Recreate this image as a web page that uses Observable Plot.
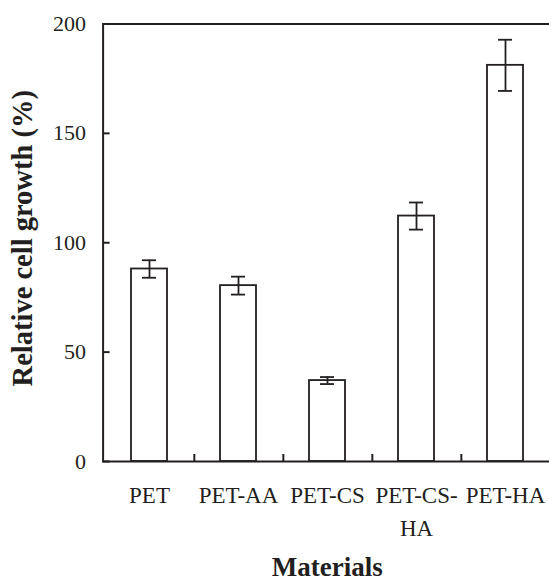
<!DOCTYPE html>
<html><head><meta charset="utf-8">
<script src="https://cdn.jsdelivr.net/npm/d3@7"></script>
<script src="https://cdn.jsdelivr.net/npm/@observablehq/plot@0.6"></script>
<style>html,body{margin:0;padding:0;background:#fff;overflow:hidden}</style>
</head><body><div id="chart"></div>
<script>
const materials = ["PET", "PET-AA", "PET-CS", "PET-CS-HA", "PET-HA"];
const tickLabels = ["PET", "PET-AA", "PET-CS", "PET-CS-\nHA", "PET-HA"];
const growth = [88.0, 80.4, 37.0, 112.2, 181.1];
const errors = [4.0, 4.1, 1.6, 6.2, 11.7];
const yTicks = [0, 50, 100, 150, 200];
const yTitle = "Relative cell growth (%)";
const xTitle = "Materials";

const data = materials.map((m, i) => ({m, v: growth[i], e: errors[i]}));
const labelMap = new Map(materials.map((m, i) => [m, tickLabels[i]]));

const W = 549, H = 582, mL = 102.6, mR = -2, mT = 23.5, mB = 121;
const step = (W - mL - mR) / materials.length;
const ink = "#231f20";
const font = "'Liberation Serif','Times New Roman',serif";

const plot = Plot.plot({
  width: W, height: H,
  marginLeft: mL, marginRight: mR, marginTop: mT, marginBottom: mB,
  style: {fontFamily: font, color: ink, background: "white", overflow: "visible"},
  x: {domain: materials, paddingInner: 0.595, paddingOuter: 0.2975},
  y: {domain: [0, 200]},
  marks: [
    Plot.barY(data, {x: "m", y: "v", fill: "white", stroke: ink, strokeWidth: 1.8}),
    Plot.ruleX(data, {x: "m", y1: d => d.v - d.e, y2: d => d.v + d.e, stroke: ink, strokeWidth: 1.8}),
    Plot.tickY(data, {x: "m", y: d => d.v - d.e, stroke: ink, strokeWidth: 1.8, insetLeft: 11, insetRight: 11}),
    Plot.tickY(data, {x: "m", y: d => d.v + d.e, stroke: ink, strokeWidth: 1.8, insetLeft: 11, insetRight: 11}),
    Plot.frame({stroke: ink, strokeWidth: 2}),
    Plot.axisY(yTicks, {tickSize: -7, tickPadding: 24, fontSize: 22, stroke: ink, strokeWidth: 2, fill: ink, label: null, tickFormat: d => String(d)}),
    Plot.axisX(materials.slice(0, 4), {tickSize: -7, dx: step / 2, fill: "none", stroke: ink, strokeWidth: 2, label: null}),
    Plot.axisX(materials, {tickSize: 0, tickPadding: 19, fontSize: 23, lineHeight: 1.4, fill: ink, label: null, tickFormat: d => labelMap.get(d)}),
    Plot.text([yTitle], {text: d => d, frameAnchor: "left", textAnchor: "middle", rotate: -90, dx: -71.6, dy: -4.5, lineAnchor: "bottom", fontSize: 28.5, fontWeight: "bold", fill: ink}),
    Plot.text([xTitle], {text: d => d, frameAnchor: "bottom", textAnchor: "middle", dy: 114, lineAnchor: "bottom", fontSize: 27, fontWeight: "bold", fill: ink})
  ]
});
document.getElementById("chart").appendChild(plot);
</script>
</body></html>
